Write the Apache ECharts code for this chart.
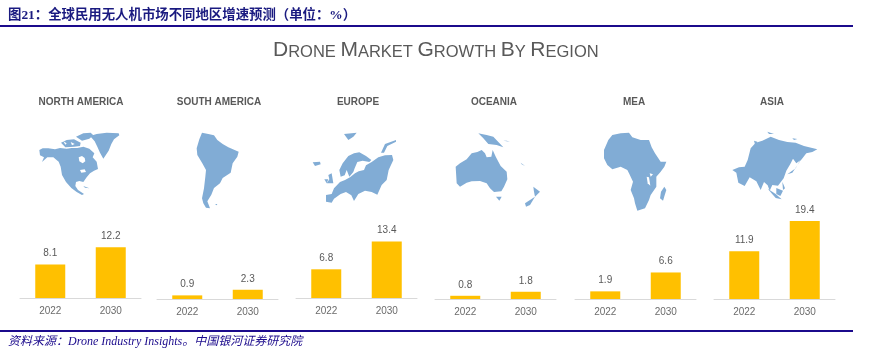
<!DOCTYPE html>
<html>
<head>
<meta charset="utf-8">
<title>Drone Market Growth By Region</title>
<script src="https://cdn.jsdelivr.net/npm/echarts@6/dist/echarts.min.js"></script>
<style>
  html, body { margin: 0; padding: 0; background: #fff; }
  #chart { width: 869px; height: 363px; }
</style>
</head>
<body>
<div id="chart"></div>
<script>
const regions = ["NORTH AMERICA", "SOUTH AMERICA", "EUROPE", "OCEANIA", "MEA", "ASIA"];
const years = ["2022", "2030"];
const values2022 = [8.1, 0.9, 6.8, 0.8, 1.9, 11.9];
const values2030 = [12.2, 2.3, 13.4, 1.8, 6.6, 19.4];

// where each little chart sits: left end of the axis, axis y, px per unit
const axisLeft = [20, 157, 296, 435, 575, 714];
const axisY = [298, 299, 298, 299, 299, 299];
const pxPerUnit = [4.15, 4.02, 4.22, 4.02, 4.02, 4.02];
const labelCenter = [81, 219, 358, 494, 634, 772];

const BLUE = "#81ACD5";
const NAVY = "#1B0A8C";
const GREY = "#595959";

// continent silhouettes, hand traced at 3x, [originX, originY] + outlines
const maps = [
  { origin: [0, 120], fill: [
    [118,90,128,85,145,85,165,88,180,84,200,86,215,84,232,84,250,80,268,86,283,100,278,112,290,125,294,147,282,152,270,160,260,172,250,186,238,183,228,186,226,198,234,210,252,222,246,225,230,216,214,204,198,186,186,165,182,140,176,125,160,112,142,112,126,126,132,112,120,106],
    [183,68,200,60,222,58,242,68,240,78,222,80,196,82],
    [228,50,250,40,272,38,280,46,268,56,246,62],
    [270,48,290,42,320,38,356,40,358,46,342,58,334,72,326,92,310,116,300,98,292,80,284,64],
    [250,198,268,205,255,203]
  ], holes: [
    [236,112,246,108,254,114,256,124,248,130,238,124],
    [240,150,254,148,258,156,244,158],
    [190,64,200,70,196,74],
    [212,66,224,72,216,76]
  ] },
  { origin: [0, 120], fill: [
    [606,38,625,42,642,46,652,60,668,72,685,82,716,95,712,110,698,130,692,158,668,174,660,190,642,204,634,224,622,244,630,265,618,263,610,250,606,235,612,205,616,170,618,150,606,128,592,105,590,85,598,58],
    [645,252,652,252,650,256]
  ], holes: [] },
  { origin: [290, 120], fill: [
    [108,225,125,222,132,205,150,186,165,180,180,172,195,160,206,154,222,150,228,136,245,126,265,112,285,106,306,105,310,120,296,150,290,180,275,195,262,224,245,216,225,212,205,222,192,243,184,226,168,216,152,222,132,236,125,248,108,245],
    [148,150,158,130,175,108,192,100,208,97,228,108,244,120,238,126,218,122,202,126,194,145,190,156,178,170,170,150,164,166,152,170],
    [115,165,125,160,130,190,110,190,118,178],
    [103,178,115,178,110,190],
    [68,127,90,125,92,133,75,138],
    [162,42,200,38,190,50,175,60],
    [273,98,285,72,318,60,318,65,292,78,282,98]
  ], holes: [] },
  { origin: [290, 120], fill: [
    [497,140,510,130,530,118,545,100,562,96,575,90,585,100,590,112,604,110,608,90,618,112,632,138,650,155,652,178,642,200,634,214,612,216,600,205,590,190,570,183,545,184,530,188,510,200,500,190],
    [618,230,635,230,628,242],
    [730,200,750,215,735,230,732,215],
    [735,230,720,255,708,260,705,250],
    [565,40,575,42,590,45,610,50,640,82,620,75,595,72,580,55],
    [640,62,660,65,650,62],
    [692,128,705,138,695,133]
  ], holes: [] },
  { origin: [579, 120], fill: [
    [100,45,125,40,150,38,160,52,185,60,210,60,218,82,228,100,245,125,262,125,256,140,245,155,232,170,232,200,215,225,210,240,198,265,175,272,168,250,165,235,155,210,162,185,150,160,145,150,125,140,100,148,85,135,75,115,75,90,88,60],
    [256,200,262,210,252,242,243,235,246,215]
  ], holes: [
    [203,170,210,172,214,197,206,190],
    [212,160,222,163,215,170]
  ] },
  { origin: [579, 120], fill: [
    [460,150,480,142,497,140,506,120,515,85,530,68,550,62,575,50,600,60,625,66,650,68,675,78,715,88,700,96,682,100,668,118,652,130,642,116,634,132,622,152,614,175,597,197,580,195,572,212,566,196,555,186,545,210,532,184,512,172,497,198,478,188,472,158],
    [665,118,672,110,662,125,640,158,625,163,650,145],
    [566,206,590,222,608,238,590,234],
    [592,204,612,212,604,228,592,222],
    [610,185,618,205,612,210],
    [565,35,585,42,570,42],
    [640,55,655,57,645,60],
    [525,62,535,65,530,80]
  ], holes: [] }
];

function toPoints(flat) {
  const pts = [];
  for (let i = 0; i < flat.length; i += 2) pts.push([flat[i], flat[i + 1]]);
  return pts;
}

const graphics = [];
maps.forEach(m => {
  const add = (flat, color) => graphics.push({
    type: "polygon",
    x: m.origin[0],
    y: m.origin[1],
    scaleX: 1 / 3,
    scaleY: 1 / 3,
    silent: true,
    shape: { points: toPoints(flat) },
    style: { fill: color }
  });
  m.fill.forEach(f => add(f, BLUE));
  m.holes.forEach(f => add(f, "#fff"));
});

// the two rules
graphics.push({ type: "rect", silent: true, shape: { x: 0, y: 25, width: 853, height: 2 }, style: { fill: NAVY } });
graphics.push({ type: "rect", silent: true, shape: { x: 0, y: 330, width: 853, height: 2 }, style: { fill: NAVY } });

const titles = [
  {
    text: "图21：全球民用无人机市场不同地区增速预测（单位：%）",
    left: 8, top: 9, padding: 0,
    textStyle: { fontFamily: "Liberation Serif, Noto Sans CJK SC", fontSize: 13.4, fontWeight: "bold", color: "#1a1a80" }
  },
  {
    text: "资料来源：Drone Industry Insights。中国银河证券研究院",
    left: 8, top: 336, padding: 0,
    textStyle: { fontFamily: "Liberation Serif, Noto Sans CJK SC", fontSize: 12, fontStyle: "italic", fontWeight: "normal", color: NAVY }
  },
  {
    text: "{a|D}{b|RONE} {a|M}{b|ARKET} {a|G}{b|ROWTH} {a|B}{b|Y} {a|R}{b|EGION}",
    left: 273, top: 35, padding: 0,
    textStyle: {
      rich: {
        a: { fontFamily: "Liberation Sans", fontSize: 21, fontWeight: "normal", color: GREY, verticalAlign: "bottom", lineHeight: 26 },
        b: { fontFamily: "Liberation Sans", fontSize: 16.5, fontWeight: "normal", color: GREY, verticalAlign: "bottom", lineHeight: 26 }
      },
      fontFamily: "Liberation Sans", fontSize: 16.5, fontWeight: "normal", color: GREY
    }
  }
];
regions.forEach((r, i) => titles.push({
  text: r,
  left: labelCenter[i],
  top: 97,
  padding: 0,
  textAlign: "center",
  textStyle: { fontFamily: "Liberation Sans", fontSize: 10, fontWeight: "bold", color: GREY }
}));

const MAX_Y = 20;
const grids = [], xAxes = [], yAxes = [], series = [];
regions.forEach((r, i) => {
  const h = MAX_Y * pxPerUnit[i];
  grids.push({ left: axisLeft[i], top: axisY[i] - h, width: 121, height: h });
  xAxes.push({
    type: "category",
    gridIndex: i,
    data: years,
    axisLine: { lineStyle: { color: "#d9d9d9", width: 1 } },
    axisTick: { length: 3, lineStyle: { color: "#d9d9d9" } },
    axisLabel: { fontFamily: "Liberation Sans", fontSize: 10, color: "#6b6b6b", margin: 8 }
  });
  yAxes.push({ type: "value", gridIndex: i, min: 0, max: MAX_Y, show: false, splitLine: { show: false } });
  series.push({
    type: "bar",
    xAxisIndex: i,
    yAxisIndex: i,
    barWidth: 30,
    data: [values2022[i], values2030[i]],
    itemStyle: { color: "#FFC000" },
    label: {
      show: true,
      position: "top",
      distance: 6,
      fontFamily: "Liberation Sans",
      fontSize: 10,
      color: GREY
    },
    animation: false
  });
});

const chart = echarts.init(document.getElementById("chart"), null, { renderer: "canvas" });
chart.setOption({
  backgroundColor: "#fff",
  animation: false,
  title: titles,
  grid: grids,
  xAxis: xAxes,
  yAxis: yAxes,
  series: series,
  graphic: graphics
});
</script>
</body>
</html>
